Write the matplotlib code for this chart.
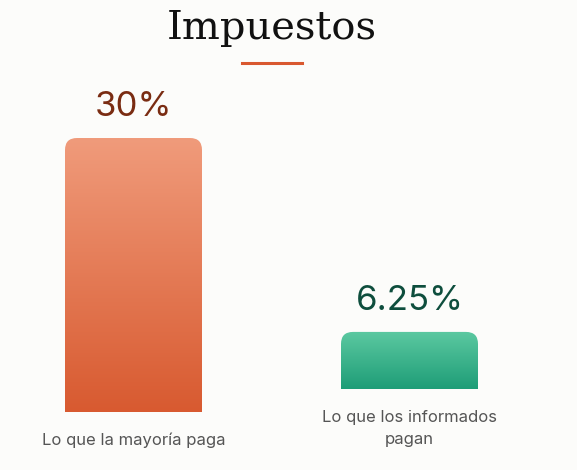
import numpy as np
import matplotlib
matplotlib.use('Agg')
import matplotlib.pyplot as plt
from matplotlib.patches import FancyBboxPatch
from matplotlib.colors import LinearSegmentedColormap
from matplotlib.lines import Line2D

# data
categories = ['Lo que la mayoría paga', 'Lo que los informados\npagan']
values = [30, 6.25]
top_colors = ['#f09b7b', '#5cc9a1']
bottom_colors = ['#d85a30', '#1e9d77']
value_colors = ['#7a2c12', '#0e4e3d']
title = 'Impuestos'

W, H = 577, 470
bg = '#fcfcfa'
fig = plt.figure(figsize=(W / 100, H / 100), dpi=100, facecolor=bg)

# pixel layout of each bar column: left edge, baseline (from top)
lefts = [65, 341]
baselines = [412, 389]
bar_w = 137
px_per_unit = 274 / 30
ymax = 40
radius = 12

for i, (cat, val) in enumerate(zip(categories, values)):
    ax = fig.add_axes([lefts[i] / W, (H - baselines[i]) / H,
                       bar_w / W, ymax * px_per_unit / H])
    ax.set_xlim(0, 1)
    ax.set_ylim(0, ymax)
    ax.patch.set_alpha(0)
    for s in ax.spines.values():
        s.set_visible(False)
    ax.set_yticks([])
    ax.set_xticks([0.5])
    ax.set_xticklabels([cat], fontsize=12, color='#555555', family='Inter',
                       linespacing=1.6)
    ax.tick_params(axis='x', length=0, pad=15)

    rx = radius / bar_w
    patch = FancyBboxPatch((0, -5), 1, val + 5,
                           boxstyle=f'round,pad=0,rounding_size={rx}',
                           mutation_aspect=bar_w / px_per_unit,
                           fc='none', ec='none')
    ax.add_patch(patch)
    cmap = LinearSegmentedColormap.from_list('g', [bottom_colors[i], top_colors[i]])
    grad = np.linspace(0, 1, 256).reshape(-1, 1)
    im = ax.imshow(grad, extent=[0, 1, 0, val], origin='lower', aspect='auto',
                   cmap=cmap, interpolation='bilinear')
    im.set_clip_path(patch)

    ax.annotate(f'{val:g}%', xy=(0.5, val), xytext=(0, 15.5),
                textcoords='offset points', ha='center', va='baseline',
                fontsize=25, color=value_colors[i], family='Inter')

# title and underline
fig.text(272 / W, 1 - 39 / H, title, ha='center', va='baseline',
         fontsize=28.8, family='DejaVu Serif', color='#111111')
fig.add_artist(Line2D([242 / W, 302 / W], [1 - 63 / H, 1 - 63 / H],
                      color='#d9582f', lw=2.2, transform=fig.transFigure))

fig.savefig('out.png', dpi=100, facecolor=bg)
